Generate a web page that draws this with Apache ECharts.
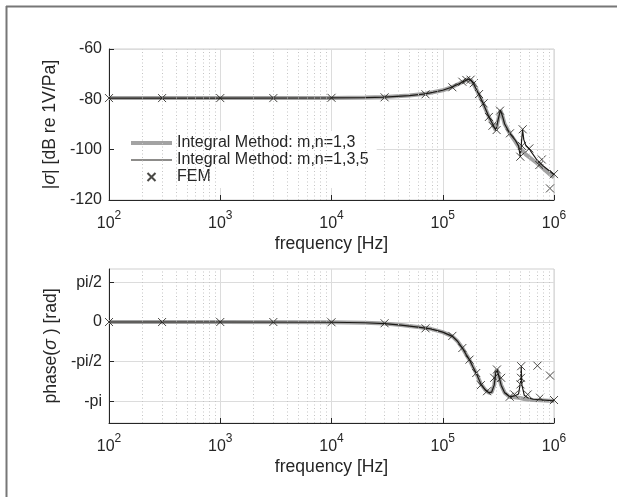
<!DOCTYPE html>
<html><head><meta charset="utf-8">
<script src="https://cdn.jsdelivr.net/npm/echarts@6/dist/echarts.min.js"></script>
<style>html,body{margin:0;padding:0;background:#fff}#c{width:617px;height:497px}</style>
</head><body><div id="c"></div>
<script>
// ---------- data ----------
const magFreq = [100, 1000, 1e4, 2e4, 3e4, 5e4, 7e4, 1e5, 1.2e5, 1.4e5, 1.55e5, 1.7e5, 1.8e5, 1.9e5, 2.1e5, 2.3e5, 2.6e5, 2.9e5, 3.0e5, 3.15e5, 3.3e5, 3.45e5, 3.6e5, 4e5, 4.5e5, 4.8e5, 4.98e5, 5.1e5, 5.22e5, 5.35e5, 5.6e5, 6e5, 7e5, 8e5, 9e5, 1e6];
const mag135 = [-79.5, -79.5, -79.45, -79.3, -79.1, -78.5, -77.8, -76.4, -75.2, -73.8, -72.8, -72.0, -72.5, -74.0, -77.8, -81.5, -87.0, -91.0, -92.3, -88.0, -84.3, -86.8, -89.8, -93.5, -96.3, -98.5, -102.8, -97.0, -92.0, -96.0, -98.5, -99.8, -104.0, -106.5, -108.3, -110.0];
const mag13 = [-79.5, -79.5, -79.45, -79.3, -79.1, -78.5, -77.8, -76.4, -75.2, -73.8, -72.8, -72.0, -72.5, -74.0, -77.8, -81.5, -87.0, -91.0, -92.3, -88.0, -84.3, -86.8, -89.8, -93.5, -96.8, -98.8, -99.5, -100.0, -100.5, -101.0, -102.0, -103.0, -105.3, -107.5, -109.5, -111.0];
const femMagFreq = [100, 300, 1000, 3000, 1e4, 3e4, 7e4, 1.22e5, 1.5e5, 1.63e5, 1.78e5, 1.9e5, 2.12e5, 2.33e5, 2.6e5, 2.8e5, 3.05e5, 3.27e5, 4.02e5, 4.98e5, 5.15e5, 5.23e5, 6.0e5, 7.38e5, 7.77e5, 9.2e5, 1e6];
const femMag = [-79.5, -79.5, -79.5, -79.5, -79.4, -79.2, -78.0, -75.2, -73.0, -72.3, -72.2, -73.6, -77.9, -81.6, -87.0, -90.5, -92.2, -84.5, -93.5, -102.8, -98.5, -91.9, -99.5, -106.1, -103.9, -115.4, -109.7];

const phaseFreq = [100, 1e3, 1e4, 2e4, 3e4, 4.2e4, 6e4, 7.8e4, 1e5, 1.22e5, 1.35e5, 1.5e5, 1.62e5, 1.74e5, 1.87e5, 2.0e5, 2.2e5, 2.4e5, 2.6e5, 2.75e5, 2.9e5, 3.0e5, 3.07e5, 3.15e5, 3.35e5, 3.6e5, 4.0e5, 4.4e5, 4.8e5, 5.0e5, 5.07e5, 5.15e5, 5.4e5, 5.8e5, 6.5e5, 7.5e5, 1e6];
const phase135 = [0, 0, -0.01, -0.03, -0.06, -0.12, -0.2, -0.27, -0.4, -0.57, -0.75, -1.03, -1.28, -1.5, -1.78, -2.03, -2.45, -2.68, -2.8, -2.78, -2.5, -2.0, -1.88, -2.05, -2.5, -2.8, -2.96, -2.93, -2.85, -2.4, -1.75, -2.5, -2.9, -3.0, -3.06, -3.08, -3.12];
const phase13 = [0, 0, -0.01, -0.03, -0.06, -0.12, -0.2, -0.27, -0.4, -0.57, -0.75, -1.03, -1.28, -1.5, -1.78, -2.03, -2.45, -2.68, -2.8, -2.78, -2.5, -2.0, -1.88, -2.05, -2.5, -2.8, -2.97, -2.98, -3.0, -3.01, -3.02, -3.03, -3.05, -3.07, -3.09, -3.1, -3.13];
const femPhaseFreq = [100, 300, 1000, 3000, 1e4, 3e4, 7e4, 1.22e5, 1.5e5, 1.74e5, 2.0e5, 2.2e5, 2.5e5, 2.9e5, 3.07e5, 3.35e5, 4.0e5, 4.4e5, 5.0e5, 5.05e5, 5.07e5, 5.8e5, 7.1e5, 7.5e5, 9.2e5, 1e6];
const femPhase = [0, 0, 0, 0, -0.01, -0.05, -0.25, -0.55, -1.03, -1.49, -2.02, -2.5, -2.74, -2.21, -1.88, -2.21, -2.96, -2.87, -2.47, -2.21, -1.75, -2.87, -1.73, -3.0, -2.12, -3.09];

const minorGridFreq = [200,300,400,500,600,700,800,900,2000,3000,4000,5000,6000,7000,8000,9000,2e4,3e4,4e4,5e4,6e4,7e4,8e4,9e4,2e5,3e5,4e5,5e5,6e5,7e5,8e5,9e5];
const phaseTickValues = [-Math.PI, -Math.PI/2, 0, Math.PI/2];
const phaseTickLabels = ['-pi', '-pi/2', '0', 'pi/2'];
const names = ['Integral Method: m,n=1,3', 'Integral Method: m,n=1,3,5', 'FEM'];

// ---------- chart ----------
const FONT = "'Liberation Sans', Arial, Helvetica, sans-serif";
const TXT = '#262626';
const GREY = '#a3a3a3';
const BLACK = '#1c1a17';
const zip = (a, b) => a.map((v, i) => [v, b[i]]);
const X_PATH = 'path://M0,0L10,10M10,0L0,10';

function xAxisCfg(gi) {
  return {
    gridIndex: gi, type: 'log', logBase: 10, min: 100, max: 1e6,
    name: 'frequency [Hz]', nameLocation: 'middle', nameGap: 35,
    nameTextStyle: {fontSize: 17.6, color: TXT, fontFamily: FONT},
    axisLine: {onZero: false, lineStyle: {color: TXT, width: 1}},
    axisTick: {inside: true, length: 5, lineStyle: {color: TXT}},
    axisLabel: {
      margin: 10, color: TXT, fontFamily: FONT,
      formatter: v => '{b|10}{s|' + Math.round(Math.log10(v)) + '}',
      rich: {
        b: {fontSize: 16, lineHeight: 22, verticalAlign: 'bottom', color: TXT, fontFamily: FONT},
        s: {fontSize: 12, lineHeight: 12, verticalAlign: 'top', color: TXT, fontFamily: FONT}
      }
    },
    splitLine: {show: true, lineStyle: {color: '#dcdcdc', width: 1}},
    minorTick: {show: false}
  };
}
function minorGrid() {
  return {
    silent: true, symbol: ['none', 'none'], animation: false,
    label: {show: false},
    lineStyle: {type: [1, 2.5], color: '#c4c4c4', width: 1},
    emphasis: {disabled: true},
    data: minorGridFreq.map(f => ({xAxis: f}))
  };
}
const lineBase = {type: 'line', symbol: 'none', showSymbol: false, animation: false, silent: true};
const femBase = {
  type: 'scatter', symbol: X_PATH, symbolSize: 8, animation: false, silent: true,
  itemStyle: {color: 'rgba(0,0,0,0)', borderColor: BLACK, borderWidth: 1}
};

const option = {
  animation: false,
  backgroundColor: '#fff',
  textStyle: {fontFamily: FONT},
  graphic: [
    {type: 'line', shape: {x1: 6, y1: 6.5, x2: 617, y2: 6.5}, style: {stroke: '#777', lineWidth: 2}},
    {type: 'line', shape: {x1: 6.5, y1: 6, x2: 6.5, y2: 497}, style: {stroke: '#777', lineWidth: 2}}
  ],
  grid: [
    {left: 109, top: 49, width: 445, height: 151, show: true, borderColor: '#cfcfcf', borderWidth: 1, backgroundColor: 'transparent'},
    {left: 109, top: 269, width: 445, height: 154, show: true, borderColor: '#cfcfcf', borderWidth: 1, backgroundColor: 'transparent'}
  ],
  legend: {
    orient: 'vertical', left: 114, top: 131,
    backgroundColor: '#fff', padding: [4, 8, 3, 17],
    itemWidth: 41, itemHeight: 8, itemGap: 1,
    textStyle: {fontSize: 16, color: TXT, fontFamily: FONT, lineHeight: 16},
    selectedMode: false,
    data: [
      {name: names[0], icon: 'path://M0,0H41V4H0Z', itemStyle: {color: GREY, borderWidth: 0}},
      {name: names[1], icon: 'path://M0,0H41V1.2H0Z', itemStyle: {color: BLACK, borderWidth: 0}},
      {name: names[2]}
    ]
  },
  xAxis: [xAxisCfg(0), xAxisCfg(1)],
  yAxis: [
    {
      gridIndex: 0, type: 'value', min: -120, max: -60, interval: 20,
      name: '|{i|σ}| [dB re 1V/Pa]', nameLocation: 'middle', nameGap: 43,
      nameTextStyle: {fontSize: 17.6, color: TXT, fontFamily: FONT,
        rich: {i: {fontSize: 17.6, fontStyle: 'italic', color: TXT, fontFamily: FONT}}},
      axisLine: {show: true, onZero: false, lineStyle: {color: TXT}},
      axisTick: {show: true, inside: true, length: 5, lineStyle: {color: TXT}},
      axisLabel: {fontSize: 16, color: TXT, margin: 7, fontFamily: FONT},
      splitLine: {show: true, lineStyle: {color: '#dcdcdc'}}
    },
    {
      gridIndex: 1, type: 'value', min: -4, max: 2.1,
      name: 'phase({i|σ} ) [rad]', nameLocation: 'middle', nameGap: 43,
      nameTextStyle: {fontSize: 17.6, color: TXT, fontFamily: FONT,
        rich: {i: {fontSize: 17.6, fontStyle: 'italic', color: TXT, fontFamily: FONT}}},
      axisLine: {show: true, onZero: false, lineStyle: {color: TXT}},
      axisTick: {show: true, inside: true, length: 5, lineStyle: {color: TXT}, customValues: phaseTickValues},
      axisLabel: {fontSize: 16, color: TXT, margin: 7, fontFamily: FONT, customValues: phaseTickValues,
        formatter: v => {
          const i = phaseTickValues.findIndex(t => Math.abs(t - v) < 1e-6);
          return i >= 0 ? phaseTickLabels[i] : '';
        }},
      splitLine: {show: true, lineStyle: {color: '#dcdcdc'}}
    }
  ],
  series: [
    Object.assign({}, lineBase, {name: names[0], xAxisIndex: 0, yAxisIndex: 0, data: zip(magFreq, mag13),
      color: GREY, lineStyle: {color: GREY, width: 4}, z: 2, markLine: minorGrid()}),
    Object.assign({}, lineBase, {name: names[1], xAxisIndex: 0, yAxisIndex: 0, data: zip(magFreq, mag135),
      color: BLACK, lineStyle: {color: BLACK, width: 1.2}, z: 3}),
    Object.assign({}, femBase, {name: names[2], xAxisIndex: 0, yAxisIndex: 0, data: zip(femMagFreq, femMag), z: 4}),
    Object.assign({}, lineBase, {name: names[0], xAxisIndex: 1, yAxisIndex: 1, data: zip(phaseFreq, phase13),
      color: GREY, lineStyle: {color: GREY, width: 4}, z: 2, markLine: minorGrid()}),
    Object.assign({}, lineBase, {name: names[1], xAxisIndex: 1, yAxisIndex: 1, data: zip(phaseFreq, phase135),
      color: BLACK, lineStyle: {color: BLACK, width: 1.2}, z: 3}),
    Object.assign({}, femBase, {name: names[2], xAxisIndex: 1, yAxisIndex: 1, data: zip(femPhaseFreq, femPhase), z: 4})
  ]
};
const chart = echarts.init(document.getElementById('c'), null, {renderer: 'canvas'});
chart.setOption(option);
</script>
</body></html>
